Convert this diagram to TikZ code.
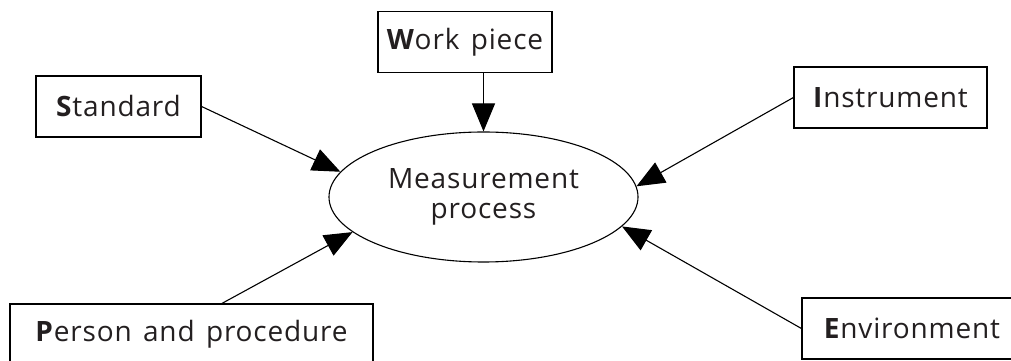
\documentclass[tikz,border=0pt]{standalone}
\usepackage{fontspec}
\setmainfont{Open Sans}[LetterSpace=3, WordSpace=1.4]
\usepackage{tikz}
\usetikzlibrary{arrows.meta,shapes.geometric}
\definecolor{inkgray}{HTML}{231F20}

\begin{document}
\begin{tikzpicture}[
        x=1pt, y=1pt,
        factor/.style={rectangle, draw, line width=1.2pt, minimum height=61pt,
            inner sep=0pt, text=inkgray, font=\fontsize{28}{30}\selectfont},
        process/.style={ellipse, draw, line width=1.1pt, minimum width=309pt,
            minimum height=130pt, inner sep=0pt, align=center, text=inkgray,
            font=\fontsize{28}{30}\selectfont},
        feed/.style={draw, line width=1.1pt, -{Triangle[length=28pt,width=23pt]}}
    ]
        \useasboundingbox (0,0) rectangle (1011,361);

        % Centre
        \node[process] (M) at (483.5,164) {Measurement\\process};

        % Factors
        \node[factor, minimum width=165pt] (S) at (118.5,254.5) {\textbf{S}tandard};
        \node[factor, minimum width=174pt] (W) at (465,319) {\textbf{W}ork piece};
        \node[factor, minimum width=193pt] (I) at (890.5,263.5) {\textbf{I}nstrument};
        \node[factor, minimum width=220pt] (E) at (912,32.5) {\textbf{E}nvironment};
        \node[factor, minimum width=363pt] (P) at (191.5,26.5) {\textbf{P}erson and procedure};

        % Arrows
        \draw[feed] (S.east) -- (M.170);
        \draw[feed] (W.south -| M.north) -- (M.north);
        \draw[feed] (I.west) -- (M.4);
        \draw[feed] (E.west) -- (M.-12);
        \draw[feed] ([xshift=30.5pt]P.north) -- (M.195);
    \end{tikzpicture}
\end{document}
